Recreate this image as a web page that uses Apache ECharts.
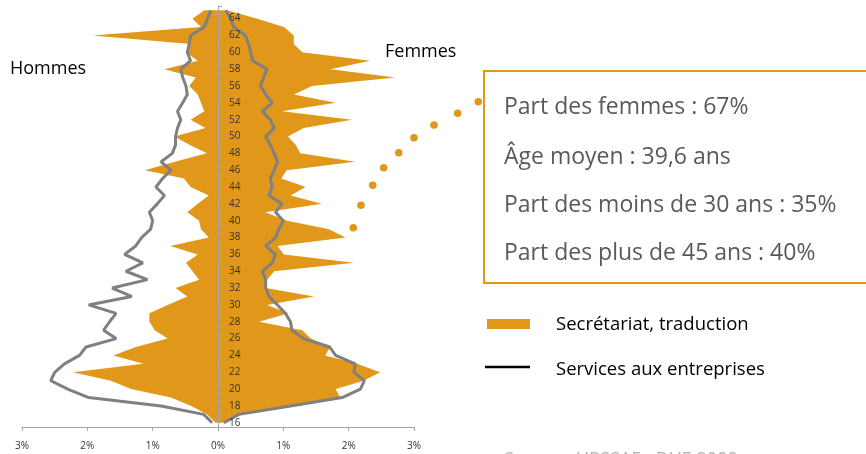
<!DOCTYPE html>
<html>
<head>
<meta charset="utf-8">
<script src="https://cdn.jsdelivr.net/npm/echarts@6/dist/echarts.min.js"></script>
<style>html,body{margin:0;padding:0;background:#fff;}#c{width:866px;height:454px;}</style>
</head>
<body>
<div id="c"></div>
<script>
// Ages (vertical category axis)
var ages = [];
for (var a = 16; a <= 65; a++) ages.push(String(a));

// Secrétariat, traduction — Hommes (% , plotted negative) ages 16..65
var secHommes = [-0.04,-0.17,-0.41,-0.72,-1.33,-1.64,-2.22,-1.14,-1.60,-1.26,
                 -0.77,-0.97,-1.05,-1.05,-0.77,-0.47,-0.65,-0.29,-0.39,-0.49,
                 -0.31,-0.73,-0.14,-0.26,-0.29,-0.47,-0.31,-0.14,-0.42,-0.52,
                 -1.12,-0.66,-0.17,-0.43,-0.67,-0.19,-0.42,-0.21,-0.26,-0.31,
                 -0.44,-0.34,-0.82,-0.31,-0.49,-0.42,-1.92,-0.26,-0.39,-0.21];
// Secrétariat, traduction — Femmes
var secFemmes = [0.08,0.28,1.05,1.87,1.80,2.23,2.48,2.13,1.64,1.72,
                 1.42,1.29,0.63,1.08,0.75,1.47,0.73,0.75,0.86,2.08,
                 1.01,0.91,1.95,1.70,1.06,0.72,1.59,1.11,1.34,0.97,
                 1.05,2.10,1.26,1.19,1.07,1.31,2.05,0.98,1.80,1.16,
                 1.44,2.71,1.72,2.33,1.29,1.16,1.16,1.01,0.60,0.14];
// Services aux entreprises — Hommes
var serHommes = [-0.09,-0.22,-0.87,-1.98,-2.30,-2.56,-2.50,-2.35,-2.12,-2.02,
                 -1.56,-1.75,-1.66,-1.56,-1.98,-1.32,-1.62,-1.08,-1.41,-1.15,
                 -1.43,-1.26,-1.17,-1.03,-1.00,-1.05,-0.93,-0.82,-0.95,-0.85,
                 -0.72,-0.87,-0.70,-0.65,-0.65,-0.62,-0.57,-0.62,-0.54,-0.47,
                 -0.49,-0.54,-0.57,-0.42,-0.47,-0.44,-0.42,-0.21,-0.16,-0.11];
// Services aux entreprises — Femmes
var serFemmes = [0.09,0.32,1.11,1.90,2.18,2.24,2.08,2.10,1.80,1.71,
                 1.31,1.13,1.11,1.03,0.91,0.78,0.73,0.73,0.68,0.83,
                 0.88,0.73,0.88,0.93,1.00,0.88,0.98,0.78,0.83,0.80,
                 0.86,0.91,0.86,0.80,0.73,0.86,0.80,0.68,0.83,0.73,
                 0.65,0.70,0.75,0.53,0.50,0.47,0.42,0.24,0.19,0.12];

var xTicks = [-3,-2,-1,0,1,2,3];
var infoLines = ['Part des femmes : 67%', 'Âge moyen : 39,6 ans',
                 'Part des moins de 30 ans : 35%', 'Part des plus de 45 ans : 40%'];
var legendNames = ['Secrétariat, traduction', 'Services aux entreprises'];

var ORANGE = '#E0971A', GREY = '#808080', FONT = '"Open Sans", sans-serif';
var GRID_LEFT = 22, GRID_W = 392;

var chart = echarts.init(document.getElementById('c'), null, {renderer: 'canvas'});

var dots = [[353.3,227.7],[361,205.3],[372.7,185.3],[383.7,167.7],[398.7,152.7],[414,137.7],[434,125],[457.7,113.3],[478.3,101.7]];
var graphics = [
  {type:'text', x:10, y:69, style:{text:'Hommes', font:'18px ' + FONT, fill:'#000', verticalAlign:'middle'}},
  {type:'text', x:385, y:52, style:{text:'Femmes', font:'18px ' + FONT, fill:'#000', verticalAlign:'middle'}},
  {type:'rect', shape:{x:484, y:71, width:420, height:212}, style:{fill:'none', stroke:ORANGE, lineWidth:2}},
  {type:'rect', shape:{x:487, y:319, width:43, height:10}, style:{fill:ORANGE}},
  {type:'line', shape:{x1:485, y1:367, x2:530, y2:367}, style:{stroke:'#000', lineWidth:2.5}},
  {type:'text', x:556, y:325, style:{text:legendNames[0], font:'18.5px ' + FONT, fill:'#000', verticalAlign:'middle'}},
  {type:'text', x:556, y:370, style:{text:legendNames[1], font:'18.5px ' + FONT, fill:'#000', verticalAlign:'middle'}},
  {type:'text', x:504, y:451, style:{text:'Source : URSSAF - DUE 2009', font:'18px ' + FONT, fill:'#b0b0b0', verticalAlign:'top'}}
];
var lineY = [107, 157, 205, 253];
infoLines.forEach(function(t, i){
  graphics.push({type:'text', x:504, y:lineY[i], style:{text:t, font:'23px ' + FONT, fill:'#595959', verticalAlign:'middle'}});
});
dots.forEach(function(d){
  graphics.push({type:'circle', shape:{cx:d[0], cy:d[1], r:3.8}, style:{fill:ORANGE}});
});

chart.setOption({
  animation: false,
  grid: {left:GRID_LEFT, right:866 - GRID_LEFT - GRID_W, top:6, bottom:27, containLabel:false},
  xAxis: {
    type:'value', min:-3, max:3, interval:1,
    axisLine:{show:true, lineStyle:{color:'#a6a6a6', width:1}},
    axisTick:{show:true, length:4, lineStyle:{color:'#a6a6a6'}},
    splitLine:{show:false},
    axisLabel:{margin:14, fontSize:10, fontFamily:FONT, color:'#333',
      formatter:function(v){ return Math.abs(v) + '%'; }}
  },
  yAxis: {
    type:'category', data:ages, boundaryGap:true, position:'left',
    offset: -GRID_W / 2, z: 10,
    axisLine:{show:true, onZero:false, lineStyle:{color:'#a6a6a6', width:1}},
    axisTick:{show:true, inside:true, interval:0, length:4, lineStyle:{color:'#a6a6a6'}},
    axisLabel:{inside:true, interval:1, margin:11, fontSize:10, fontFamily:FONT, color:'#333'},
    splitLine:{show:false}
  },
  series: [
    {name:legendNames[0], type:'line', data:secHommes, showSymbol:false, symbol:'none',
     lineStyle:{width:0}, areaStyle:{color:ORANGE, opacity:1}, z:1},
    {name:legendNames[0], type:'line', data:secFemmes, showSymbol:false, symbol:'none',
     lineStyle:{width:0}, areaStyle:{color:ORANGE, opacity:1}, z:1},
    {name:legendNames[1], type:'line', data:serHommes, showSymbol:false, symbol:'none',
     lineStyle:{width:3, color:GREY}, z:3},
    {name:legendNames[1], type:'line', data:serFemmes, showSymbol:false, symbol:'none',
     lineStyle:{width:3, color:GREY}, z:3}
  ],
  graphic: graphics
});
</script>
</body>
</html>
